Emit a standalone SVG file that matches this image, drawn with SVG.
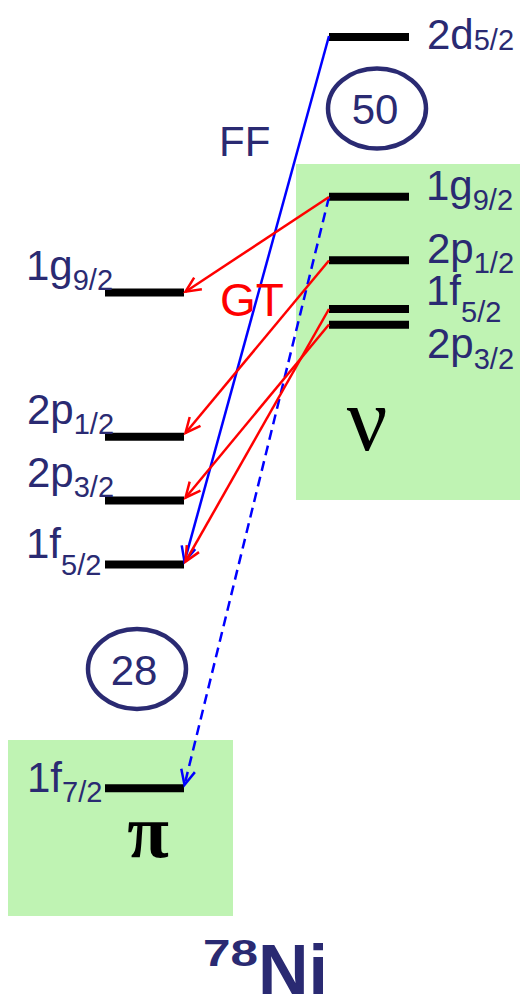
<svg xmlns="http://www.w3.org/2000/svg" width="520" height="1000" viewBox="0 0 520 1000">
<style>
.lbl{font-family:"Liberation Sans",Arial,sans-serif;fill:#2A2A72;font-size:42px}
.sub{font-size:29px}
.bar{stroke:#000;stroke-width:8}
.box{fill:#BFF3B3}
.ell{fill:none;stroke:#2A2A72;stroke-width:4.5}
.red{stroke:#FF0000;stroke-width:2.5;fill:none}
.blue{stroke:#0000FF;stroke-width:2.5;fill:none}
.greek{font-family:"Liberation Serif","Times New Roman",serif;fill:#000}
</style>
<defs>
<marker id="ar" markerWidth="20" markerHeight="20" refX="16" refY="8" orient="auto" markerUnits="userSpaceOnUse" overflow="visible"><path d="M1,1 L16,8 L1,15" fill="none" stroke="#FF0000" stroke-width="2.5"/></marker>
<marker id="ab" markerWidth="20" markerHeight="20" refX="16" refY="8" orient="auto" markerUnits="userSpaceOnUse" overflow="visible"><path d="M1,1 L16,8 L1,15" fill="none" stroke="#0000FF" stroke-width="2.5"/></marker>
</defs>
<g id="nu-box"><rect class="box" x="296" y="164" width="224" height="336"/><text class="greek" x="367" y="450" font-size="90" text-anchor="middle">ν</text></g>
<g id="pi-box"><rect class="box" x="8" y="740" width="225" height="176"/><text class="greek" x="148" y="857" font-size="76" font-weight="bold" text-anchor="middle">π</text></g>
<g id="n-2d52"><line class="bar" x1="329" y1="37" x2="409" y2="37"/><text class="lbl" x="427" y="49">2d<tspan class="sub" y="50">5/2</tspan></text></g>
<g id="magic50"><ellipse class="ell" cx="377" cy="108.5" rx="49" ry="40"/><text class="lbl" x="375" y="124" font-size="48" text-anchor="middle">50</text></g>
<g id="n-1g92"><line class="bar" x1="329" y1="196.7" x2="409" y2="196.7"/><text class="lbl" x="426" y="200">1g<tspan class="sub" y="210">9/2</tspan></text></g>
<g id="n-2p12"><line class="bar" x1="329" y1="260.3" x2="409" y2="260.3"/><text class="lbl" x="427" y="263">2p<tspan class="sub" y="273">1/2</tspan></text></g>
<g id="n-1f52"><line class="bar" x1="329" y1="309" x2="409" y2="309"/><text class="lbl" x="426" y="305">1f<tspan class="sub" y="322">5/2</tspan></text></g>
<g id="n-2p32"><line class="bar" x1="329" y1="324.7" x2="409" y2="324.7"/><text class="lbl" x="427" y="358">2p<tspan class="sub" y="369">3/2</tspan></text></g>
<g id="p-1g92"><line class="bar" x1="105" y1="292.5" x2="184" y2="292.5"/><text class="lbl" x="26" y="280">1g<tspan class="sub" y="290">9/2</tspan></text></g>
<g id="p-2p12"><line class="bar" x1="105" y1="436.7" x2="184" y2="436.7"/><text class="lbl" x="27" y="424">2p<tspan class="sub" y="434">1/2</tspan></text></g>
<g id="p-2p32"><line class="bar" x1="105" y1="500.5" x2="184" y2="500.5"/><text class="lbl" x="27" y="487">2p<tspan class="sub" y="497">3/2</tspan></text></g>
<g id="p-1f52"><line class="bar" x1="105" y1="564.5" x2="184" y2="564.5"/><text class="lbl" x="26" y="558">1f<tspan class="sub" y="575">5/2</tspan></text></g>
<g id="magic28"><ellipse class="ell" cx="137" cy="669" rx="49" ry="40"/><text class="lbl" x="134" y="685" font-size="48" text-anchor="middle">28</text></g>
<g id="p-1f72"><line class="bar" x1="105" y1="788.3" x2="184" y2="788.3"/><text class="lbl" x="27" y="792">1f<tspan class="sub" y="802">7/2</tspan></text></g>
<g id="connectors">
<line class="blue" x1="329" y1="36" x2="184.5" y2="561.7" marker-end="url(#ab)"/>
<line class="blue" x1="329" y1="197" x2="184.5" y2="785" stroke-dasharray="10 6" marker-end="url(#ab)"/>
<line class="red" x1="329" y1="197" x2="185.5" y2="291.7" marker-end="url(#ar)"/>
<line class="red" x1="329" y1="260.5" x2="185.5" y2="433" marker-end="url(#ar)"/>
<line class="red" x1="329" y1="324.5" x2="185.5" y2="497.7" marker-end="url(#ar)"/>
<line class="red" x1="329" y1="309" x2="185.5" y2="561.7" marker-end="url(#ar)"/>
</g>
<g id="labels">
<text class="lbl" x="219" y="156" font-size="48">FF</text>
<text x="220" y="316" font-family="Liberation Sans,Arial,sans-serif" font-size="46" fill="#FF0000">GT</text>
<text id="title" font-family="Liberation Sans,Arial,sans-serif" font-weight="bold" fill="#2A2A72"><tspan x="203" y="966" font-size="36" textLength="55" lengthAdjust="spacingAndGlyphs">78</tspan><tspan x="258" y="994" font-size="70">Ni</tspan></text>
</g>
</svg>
